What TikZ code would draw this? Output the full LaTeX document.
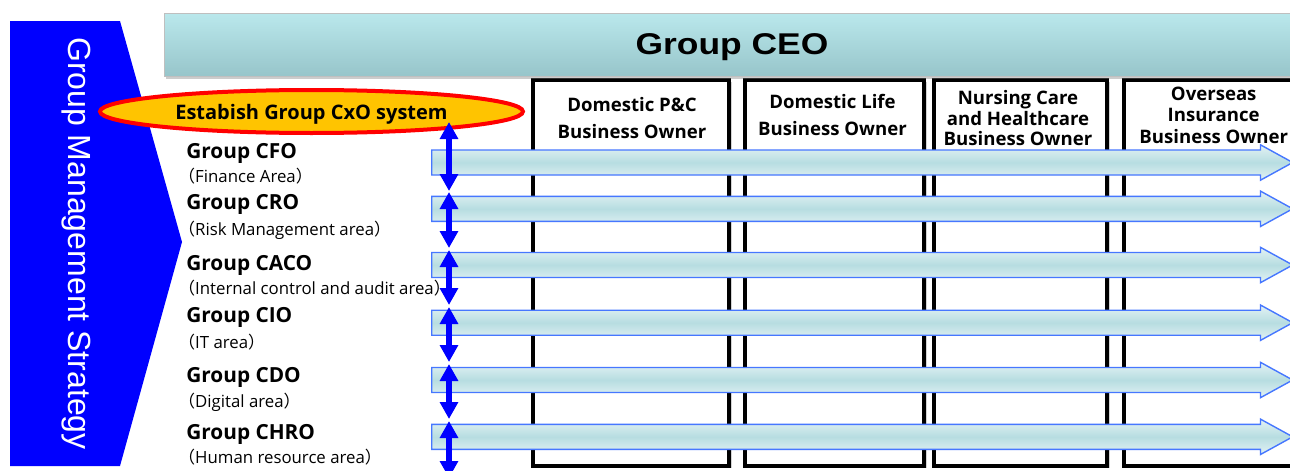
\documentclass[tikz,border=0pt]{standalone}
\usepackage{fontspec}
\setmainfont{Open Sans}
\newfontfamily\arialfont{Liberation Sans}
\newfontfamily\ceofont[FakeStretch=1.18]{Liberation Sans}
\newfontfamily\cjk{Noto Sans CJK JP}
\newcommand{\fwl}{{\cjk （}}
\newcommand{\fwr}{{\cjk ）}}
\usetikzlibrary{shapes.geometric,shapes.arrows,arrows.meta,shadows}
\definecolor{ceotop}{HTML}{BAE8EC}
\definecolor{ceobot}{HTML}{97C5CA}
\definecolor{bandmid}{HTML}{B7DDE1}
\definecolor{bandedge}{HTML}{E3F2F4}
\definecolor{bandline}{HTML}{4677FF}
\definecolor{cxofill}{HTML}{FFC400}
\begin{document}
\begin{tikzpicture}[x=0.5pt, y=-0.5pt,
    colbox/.style={draw=black, line width=2.2pt, fill=white, drop shadow={shadow xshift=1.5pt, shadow yshift=-1pt, opacity=0.35}},
    coltitle/.style={font=\bfseries\fontsize{9.3}{13.5}\selectfont, align=center, anchor=north, inner sep=0pt},
    cxo/.style={font=\bfseries\fontsize{10.4}{12}\selectfont, anchor=base west, inner sep=0pt},
    area/.style={font=\fontsize{8.4}{10}\selectfont, anchor=base west, inner sep=0pt},
    bandarrow/.style={single arrow, draw=bandline, line width=0.7pt, top color=bandedge, bottom color=bandedge, middle color=bandmid, minimum height=430.5pt, minimum width=17pt, text height=11.8pt, text depth=0pt, single arrow head extend=2.6pt, single arrow tip angle=57.5, inner sep=0pt, anchor=tail},
    vlink/.style={draw=blue, line width=2.6pt, {Triangle[width=8.8pt,length=8.5pt]}-{Triangle[width=8.8pt,length=8.5pt]}}]
  \useasboundingbox (0,0) rectangle (1290,471);

  \fill[blue] (10,21) -- (120,21) -- (182,242) -- (120,466) -- (10,466) -- cycle;
  \node[text=white, font=\arialfont\fontsize{16}{19}\selectfont, rotate=-90, anchor=base, inner sep=0pt](Strategy) at (68,243.5){Group Management Strategy};

  \node[colbox, minimum width=98pt, minimum height=193pt](PC) at (631,273){};
  \node[colbox, minimum width=89.5pt, minimum height=193pt](Life) at (834.5,273){};
  \node[colbox, minimum width=86.5pt, minimum height=193pt](Care) at (1020.5,273){};
  \node[colbox, minimum width=93pt, minimum height=193pt](Overseas) at (1217,273){};

  \node[draw=gray!50, top color=ceotop, bottom color=ceobot, minimum width=568pt, minimum height=31.5pt, text depth=0pt, font=\ceofont\bfseries\fontsize{15}{18}\selectfont, drop shadow={shadow xshift=1pt, shadow yshift=-1.5pt, opacity=0.4}](CEO) at (732,44.5){Group CEO};

  \node[coltitle](PCtitle) at (632,96.5){Domestic P\&C\\Business Owner};
  \node[coltitle](Lifetitle) at (832.5,93.5){Domestic Life\\Business Owner};
  \node[coltitle, font=\bfseries\fontsize{9.3}{10.4}\selectfont](Caretitle) at (1018,89.7){Nursing Care\\and Healthcare\\Business Owner};
  \node[coltitle, font=\bfseries\fontsize{9.3}{10.6}\selectfont](Overseastitle) at (1213.7,86.8){Overseas\\Insurance\\Business Owner};

  \node[ellipse, draw=red, line width=2pt, fill=cxofill, minimum width=211.5pt, minimum height=21.5pt, inner sep=0pt, text depth=0pt, font=\bfseries\fontsize{10}{12}\selectfont](CxO) at (311.5,111.5){Estabish Group CxO system};

  \node[cxo](CFO) at (186,158.3){Group CFO};
  \node[area](CFOa) at (178,182.5){\fwl Finance Area\fwr};
  \node[cxo](CRO) at (186,209.3){Group CRO};
  \node[area](CROa) at (178,235){\fwl Risk Management area\fwr};
  \node[cxo](CACO) at (186,270.7){Group CACO};
  \node[area](CACOa) at (178,294){\fwl Internal control and audit area\fwr};
  \node[cxo](CIO) at (186,322){Group CIO};
  \node[area](CIOa) at (178,348){\fwl IT area\fwr};
  \node[cxo](CDO) at (186,382.7){Group CDO};
  \node[area](CDOa) at (178,407){\fwl Digital area\fwr};
  \node[cxo](CHRO) at (186,439.3){Group CHRO};
  \node[area](CHROa) at (178,463){\fwl Human resource area\fwr};

  \node[bandarrow](CFOband) at (431,162.5){};
  \node[bandarrow](CROband) at (431,208.8){};
  \node[bandarrow](CACOband) at (431,265){};
  \node[bandarrow](CIOband) at (431,322.7){};
  \node[bandarrow](CDOband) at (431,380){};
  \node[bandarrow](CHROband) at (431,436.8){};

  \coordinate (a1) at (449,122);
  \coordinate (b1) at (449,191);
  \coordinate (a2) at (449,192);
  \coordinate (b2) at (449,248);
  \coordinate (a3) at (449,250);
  \coordinate (b3) at (449,305);
  \coordinate (a4) at (449,307);
  \coordinate (b4) at (449,362);
  \coordinate (a5) at (449,364);
  \coordinate (b5) at (449,419);
  \coordinate (a6) at (449,421);
  \coordinate (b6) at (449,478);

  \draw[vlink] (a1) -- (b1);
  \draw[vlink] (a2) -- (b2);
  \draw[vlink] (a3) -- (b3);
  \draw[vlink] (a4) -- (b4);
  \draw[vlink] (a5) -- (b5);
  \draw[vlink] (a6) -- (b6);
\end{tikzpicture}
\end{document}
